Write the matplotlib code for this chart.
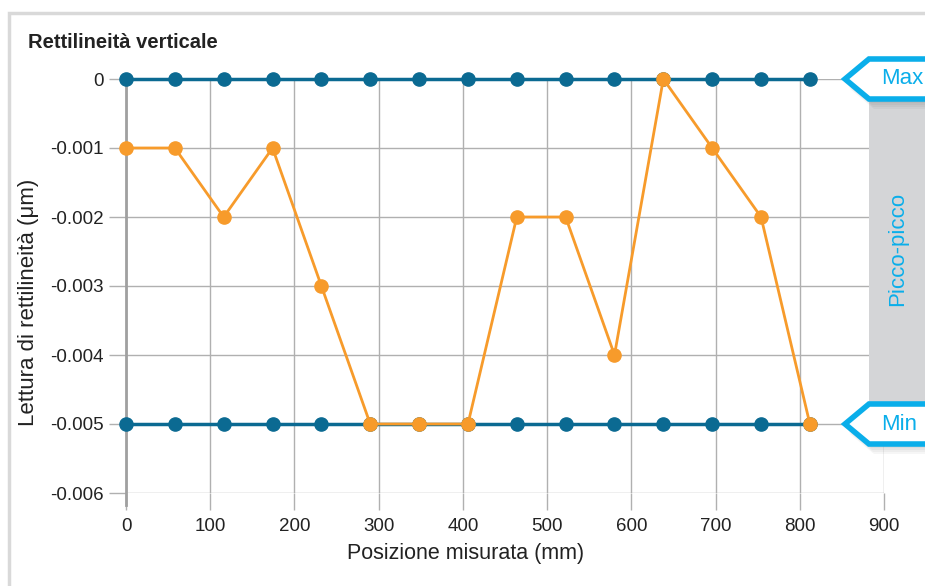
import numpy as np
import matplotlib.pyplot as plt
from matplotlib.patches import Polygon, Rectangle
import matplotlib.transforms as mtransforms

plt.rcParams["font.family"] = ["Liberation Sans", "DejaVu Sans"]

# positions (mm) and readings
posizioni = [0, 58, 116, 174, 232, 290, 348, 406, 464, 522, 580, 638, 696, 754, 812]
lettura = [-0.001, -0.001, -0.002, -0.001, -0.003, -0.005, -0.005, -0.005,
           -0.002, -0.002, -0.004, 0, -0.001, -0.002, -0.005]
valMax = 0
valMin = -0.005

xTicks = [0, 100, 200, 300, 400, 500, 600, 700, 800, 900]
yTicks = [0, -0.001, -0.002, -0.003, -0.004, -0.005, -0.006]
yTickLabels = ["0", "-0.001", "-0.002", "-0.003", "-0.004", "-0.005", "-0.006"]

blue = "#0b6a92"
orange = "#f79b2b"
cyan = "#0aaeea"
gridCol = "#b0b0b0"
txtCol = "#222222"

fig = plt.figure(figsize=(9.25, 5.86), dpi=100)
ax = fig.add_axes([126/925, 1-493/586, (884-126)/925, (493-79)/586])

# card border
fig.patches.append(Rectangle((9/925, -0.1), 1.2, 1.1 - 13/586, transform=fig.transFigure,
                             fill=False, edgecolor="#d9d9d9", linewidth=2.5))

ax.set_xlim(0, 900)
ax.set_ylim(-0.006, 0)
ax.set_xticks(xTicks)
ax.set_yticks(yTicks)
ax.set_yticklabels(yTickLabels)
ax.grid(True, color=gridCol, linewidth=1)
ax.set_axisbelow(True)
for s in ["top", "right", "bottom"]:
    ax.spines[s].set_visible(False)
ax.spines["left"].set_color("#a0a0a0")
ax.spines["left"].set_linewidth(2)
ax.spines["left"].set_bounds(-0.006 - 0.00018, 0)
ax.tick_params(axis="both", colors=gridCol, labelcolor=txtCol, labelsize=13.5,
               length=12, width=1)
ax.tick_params(axis="x", pad=6)
ax.tick_params(axis="y", pad=4)

ax.plot(posizioni, [valMax]*len(posizioni), color=blue, lw=2.5, marker="o",
        markersize=9.5, clip_on=False, zorder=3)
ax.plot(posizioni, [valMin]*len(posizioni), color=blue, lw=2.5, marker="o",
        markersize=9.5, clip_on=False, zorder=3)
ax.plot(posizioni, lettura, color=orange, lw=2, marker="o",
        markersize=9.5, clip_on=False, zorder=4)

ax.set_xlabel("Posizione misurata (mm)", fontsize=15.5, color=txtCol, va="center")
ax.set_ylabel("Lettura di rettilineità (μm)", fontsize=16, color=txtCol, va="center")
ax.xaxis.set_label_coords(0.4485, -0.145)
ax.yaxis.set_label_coords(-0.128, 0.461)
fig.text(28/925, 1-42/586, "Rettilineità verticale", fontsize=14.5, fontweight="bold",
         color=txtCol, va="center")

# right side panel and Max/Min labels
trans = mtransforms.blended_transform_factory(fig.transFigure, ax.transData)
panel = Rectangle((869/925, valMin), 1.0, valMax - valMin, transform=trans,
                  facecolor="#d4d5d7", edgecolor="none", zorder=5, clip_on=False)
fig.patches.append(panel)
fig.text(898/925, 1-249/586, "Picco-picco", rotation=90, color=cyan, fontsize=16,
         ha="center", va="center", zorder=6)

h = 0.00029
for val, txt in [(valMax, "Max"), (valMin, "Min")]:
    pts = [(845/925, val), (869/925, val + h), (1.05, val + h),
           (1.05, val - h), (869/925, val - h)]
    # soft shadow
    for k in range(5):
        sh = mtransforms.ScaledTranslation(0.01*(k+1), -0.02*(k+1), fig.dpi_scale_trans)
        fig.patches.append(Polygon(pts, closed=True, transform=trans + sh,
                                   facecolor="black", alpha=0.035, edgecolor="none", zorder=6))
    fig.patches.append(Polygon(pts, closed=True, transform=trans, facecolor="white",
                               edgecolor=cyan, linewidth=4, joinstyle="miter", zorder=7))
    fig.text(881/925, val, txt, transform=trans, color=cyan, fontsize=16,
             ha="left", va="center", zorder=8)

fig.savefig("out.png", dpi=100)
